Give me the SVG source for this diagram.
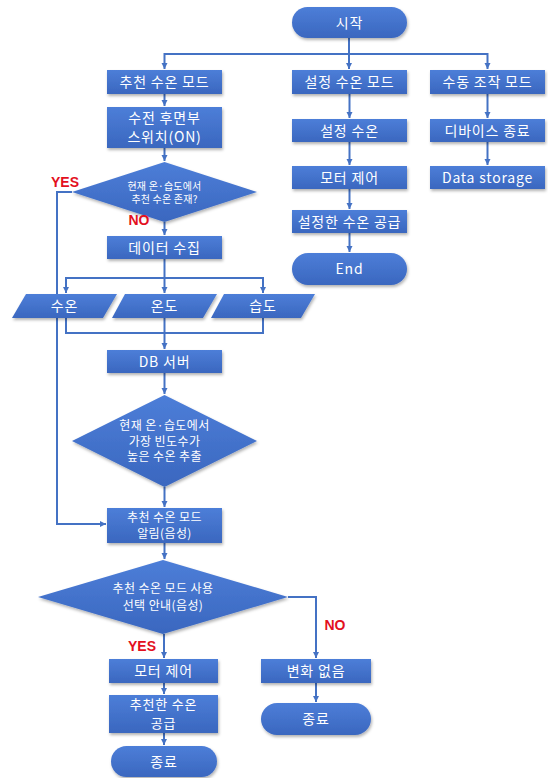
<svg xmlns="http://www.w3.org/2000/svg" width="548" height="778" viewBox="0 0 548 778">
<defs>
<linearGradient id="g" x1="0" y1="0" x2="0" y2="1">
<stop offset="0" stop-color="#4D7ED8"/>
<stop offset="1" stop-color="#3A67BF"/>
</linearGradient>
<filter id="sh" x="-10%" y="-10%" width="125%" height="140%">
<feDropShadow dx="1" dy="2" stdDeviation="1.5" flood-color="#000" flood-opacity="0.3"/>
</filter>
<marker id="arr" markerUnits="userSpaceOnUse" markerWidth="7" markerHeight="7" refX="6" refY="3.5" orient="auto">
<path d="M0,0.5 L6,3.5 L0,6.5 z" fill="#4472C4"/>
</marker>
<style>
.n{fill:url(#g);filter:url(#sh);}
.t{fill:#fff;font-family:"Noto Sans CJK KR","Noto Sans",sans-serif;font-size:14px;text-anchor:middle;letter-spacing:0.8px;}
.s{font-size:10px;letter-spacing:0.2px;}
.m{font-size:12px;letter-spacing:0.4px;}
.k{font-size:13px;}
.c{fill:none;stroke:#4472C4;stroke-width:2;}
.a{marker-end:url(#arr);}
.lbl{fill:#E3101E;font-family:"Liberation Sans",Arial,sans-serif;font-weight:bold;font-size:14px;text-anchor:middle;}
</style>
</defs>

<g id="connectors">
<path class="c a" d="M349,38 V69"/>
<path class="c a" d="M349,54 H164.5 V69"/>
<path class="c a" d="M349,54 H487.5 V69"/>
<path class="c a" d="M164.5,94 V106"/>
<path class="c a" d="M164.5,148 V161"/>
<path class="c a" d="M164.5,222 V235"/>
<path class="c a" d="M72,192 H57 V524 H106"/>
<path class="c a" d="M164.5,259 V293"/>
<path class="c a" d="M164.5,278 H66 V293"/>
<path class="c a" d="M164.5,278 H263 V293"/>
<path class="c" d="M66,318 V333 H263 V318"/>
<path class="c a" d="M164.5,318 V349"/>
<path class="c a" d="M164.5,373 V394"/>
<path class="c a" d="M164.5,487 V507"/>
<path class="c a" d="M164.5,543 V559"/>
<path class="c a" d="M164,634 V658"/>
<path class="c a" d="M288,597 H316 V658"/>
<path class="c a" d="M164,683 V694"/>
<path class="c a" d="M164,733 V745"/>
<path class="c a" d="M316,683 V702"/>
<path class="c a" d="M349.5,94 V118"/>
<path class="c a" d="M349.5,142 V165"/>
<path class="c a" d="M349.5,189 V209"/>
<path class="c a" d="M349.5,233 V252"/>
<path class="c a" d="M487.5,94 V118"/>
<path class="c a" d="M487.5,142 V165"/>
</g>

<g id="start"><rect class="n" x="292" y="7" width="115" height="31" rx="15.5"/><text class="t" x="349.5" y="27.5">시작</text></g>

<g id="rec-mode"><rect class="n" x="107" y="70" width="115" height="24"/><text class="t" x="164.5" y="87">추천 수온 모드</text></g>
<g id="switch"><rect class="n" x="107" y="107" width="115" height="41"/><text class="t" x="164.5" y="123">수전 후면부</text><text class="t" x="164.5" y="142">스위치(ON)</text></g>
<g id="dec1"><polygon class="n" points="164.5,162 257,192 164.5,222 72,192"/><text class="t s" x="164.5" y="189.5">현재 온·습도에서</text><text class="t s" x="164.5" y="203">추천 수온 존재?</text></g>
<g id="collect"><rect class="n" x="107" y="236" width="115" height="23"/><text class="t" x="164.5" y="252.5">데이터 수집</text></g>
<g id="water"><polygon class="n" points="26,294 117,294 103,318 12,318"/><text class="t" x="64.5" y="311">수온</text></g>
<g id="temp"><polygon class="n" points="125,294 217,294 203,318 112,318"/><text class="t" x="164.5" y="311">온도</text></g>
<g id="humid"><polygon class="n" points="224,294 315,294 301,318 211,318"/><text class="t" x="263" y="311">습도</text></g>
<g id="db"><rect class="n" x="107" y="350" width="115" height="23"/><text class="t" x="164.5" y="366.5">DB 서버</text></g>
<g id="dec2"><polygon class="n" points="164.5,395 257,441 164.5,487 72,441"/><text class="t m" x="164.5" y="430">현재 온·습도에서</text><text class="t m" x="164.5" y="445.5">가장 빈도수가</text><text class="t m" x="164.5" y="461">높은 수온 추출</text></g>
<g id="notify"><rect class="n" x="107" y="508" width="115" height="35"/><text class="t m" x="164.5" y="521.5">추천 수온 모드</text><text class="t m" x="164.5" y="538">알림(음성)</text></g>
<g id="dec3"><polygon class="n" points="163,560 288,597 163,634 38,597"/><text class="t m" x="163" y="593">추천 수온 모드 사용</text><text class="t m" x="163" y="610">선택 안내(음성)</text></g>
<g id="motor2"><rect class="n" x="109" y="659" width="109" height="24"/><text class="t" x="163.5" y="676">모터 제어</text></g>
<g id="supply2"><rect class="n" x="109" y="695" width="109" height="38"/><text class="t k" x="163.5" y="709">추천한 수온</text><text class="t k" x="163.5" y="727.5">공급</text></g>
<g id="end2"><rect class="n" x="111" y="746" width="106" height="31" rx="15.5"/><text class="t" x="164" y="766.5">종료</text></g>
<g id="nochange"><rect class="n" x="261" y="659" width="110" height="24"/><text class="t" x="316" y="676">변화 없음</text></g>
<g id="end3"><rect class="n" x="261" y="703" width="110" height="32" rx="16"/><text class="t" x="316" y="724">종료</text></g>

<g id="set-mode"><rect class="n" x="292" y="70" width="115" height="24"/><text class="t" x="349.5" y="87">설정 수온 모드</text></g>
<g id="set-temp"><rect class="n" x="292" y="119" width="115" height="23"/><text class="t" x="349.5" y="135.5">설정 수온</text></g>
<g id="motor1"><rect class="n" x="292" y="166" width="115" height="23"/><text class="t" x="349.5" y="182.5">모터 제어</text></g>
<g id="supply1"><rect class="n" x="292" y="210" width="115" height="23"/><text class="t" x="349.5" y="226.5">설정한 수온 공급</text></g>
<g id="end1"><rect class="n" x="292" y="253" width="115" height="32" rx="16"/><text class="t" x="349.5" y="274">End</text></g>

<g id="manual-mode"><rect class="n" x="430" y="70" width="115" height="24"/><text class="t" x="487.5" y="87">수동 조작 모드</text></g>
<g id="device-off"><rect class="n" x="430" y="119" width="115" height="23"/><text class="t" x="487.5" y="135.5">디바이스 종료</text></g>
<g id="storage"><rect class="n" x="430" y="166" width="115" height="23"/><text class="t" x="487.5" y="182.5">Data storage</text></g>

<g id="labels">
<text class="lbl" x="65" y="187">YES</text>
<text class="lbl" x="139" y="225">NO</text>
<text class="lbl" x="142" y="651">YES</text>
<text class="lbl" x="335" y="630">NO</text>
</g>
</svg>
